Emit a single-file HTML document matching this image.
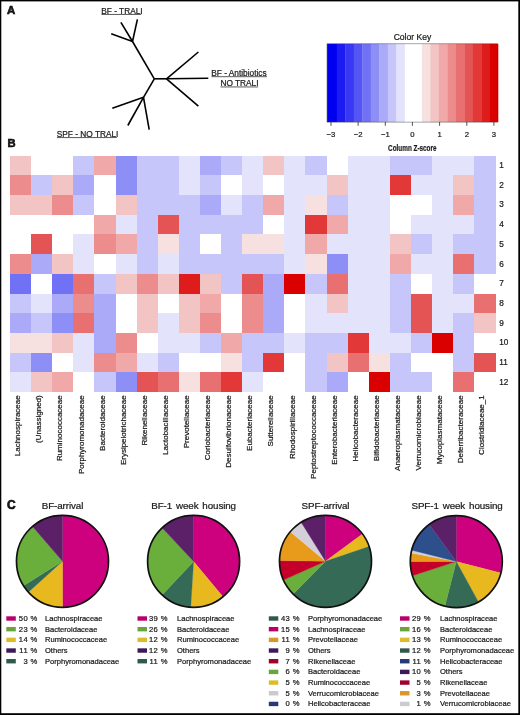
<!DOCTYPE html><html><head><meta charset="utf-8"><style>html,body{margin:0;padding:0;background:#000;width:520px;height:715px;overflow:hidden}svg{display:block;will-change:transform}text{font-family:"Liberation Sans",sans-serif;fill:#1a1a1a;stroke:#1a1a1a;stroke-width:0.22px}</style></head><body>
<svg width="520" height="715" viewBox="0 0 520 715">
<rect x="0" y="0" width="520" height="715" fill="#000"/>
<rect x="1.3" y="1.4" width="517.0" height="711.8" fill="#fff"/>
<text x="7.0" y="13.6" font-size="11.4" font-weight="bold" fill="#000" style="stroke:#000;stroke-width:0.6px">A</text>
<text x="7.4" y="147.2" font-size="11.2" font-weight="bold" fill="#000" style="stroke:#000;stroke-width:0.6px">B</text>
<text x="7.0" y="508.8" font-size="12" font-weight="bold" fill="#000" style="stroke:#000;stroke-width:0.6px">C</text>
<g stroke="#000" stroke-width="1.6" stroke-linecap="butt" fill="none">
<line x1="154.3" y1="78.8" x2="166.5" y2="78.8"/>
<line x1="166.5" y1="78.8" x2="198.4" y2="52"/>
<line x1="166.5" y1="78.8" x2="208.3" y2="78.3"/>
<line x1="166.5" y1="78.8" x2="198.4" y2="106.2"/>
<line x1="154.3" y1="78.8" x2="132.5" y2="41.5"/>
<line x1="132.5" y1="41.5" x2="111.2" y2="33.8"/>
<line x1="132.5" y1="41.5" x2="120.9" y2="22.3"/>
<line x1="132.5" y1="41.5" x2="137.4" y2="19.3"/>
<line x1="154.3" y1="78.8" x2="143.5" y2="97.3"/>
<line x1="143.5" y1="97.3" x2="112.3" y2="108.2"/>
<line x1="143.5" y1="97.3" x2="127.8" y2="125.5"/>
<line x1="143.5" y1="97.3" x2="149.2" y2="129.6"/>
</g>
<text x="101.3" y="13.5" font-size="8.3" fill="#111">BF - TRALI</text>
<rect x="101.39999999999999" y="13.95" width="39.80" height="0.8" fill="#333"/>
<text x="211.3" y="75.9" font-size="8.3" fill="#111">BF - Antibiotics</text>
<rect x="211.4" y="76.35" width="55.60" height="0.8" fill="#333"/>
<text x="220.4" y="86.1" font-size="8.3" fill="#111">NO TRALI</text>
<rect x="220.5" y="86.55" width="37.60" height="0.8" fill="#333"/>
<text x="56.8" y="136.8" font-size="8.3" fill="#111">SPF - NO TRALI</text>
<rect x="56.9" y="137.25" width="60.00" height="0.8" fill="#333"/>
<rect x="327.10" y="43.8" width="10.00" height="78.30" fill="#0000f1"/>
<rect x="336.80" y="43.8" width="8.81" height="78.30" fill="#1c1cf2"/>
<rect x="345.31" y="43.8" width="8.81" height="78.30" fill="#3939f4"/>
<rect x="353.81" y="43.8" width="8.81" height="78.30" fill="#5555f5"/>
<rect x="362.32" y="43.8" width="8.81" height="78.30" fill="#7171f6"/>
<rect x="370.82" y="43.8" width="8.81" height="78.30" fill="#8e8ef7"/>
<rect x="379.33" y="43.8" width="8.81" height="78.30" fill="#aaaaf8"/>
<rect x="387.84" y="43.8" width="8.81" height="78.30" fill="#c6c6fa"/>
<rect x="396.34" y="43.8" width="8.81" height="78.30" fill="#e3e3fb"/>
<rect x="404.85" y="43.8" width="8.81" height="78.30" fill="#ffffff"/>
<rect x="413.35" y="43.8" width="8.81" height="78.30" fill="#ffffff"/>
<rect x="421.86" y="43.8" width="8.81" height="78.30" fill="#f6e0e0"/>
<rect x="430.37" y="43.8" width="8.81" height="78.30" fill="#f3c4c4"/>
<rect x="438.87" y="43.8" width="8.81" height="78.30" fill="#f0a8a8"/>
<rect x="447.38" y="43.8" width="8.81" height="78.30" fill="#ec8c8c"/>
<rect x="455.88" y="43.8" width="8.81" height="78.30" fill="#e87070"/>
<rect x="464.39" y="43.8" width="8.81" height="78.30" fill="#e55454"/>
<rect x="472.90" y="43.8" width="8.81" height="78.30" fill="#e23838"/>
<rect x="481.40" y="43.8" width="8.81" height="78.30" fill="#de1c1c"/>
<rect x="489.91" y="43.8" width="8.39" height="78.30" fill="#da0000"/>
<rect x="327.0" y="43.8" width="170.60" height="78.30" fill="none" stroke="#333" stroke-width="0.6" opacity="0.7"/>
<text x="412.5" y="40.1" font-size="8.6" text-anchor="middle">Color Key</text>
<line x1="331.0" y1="122.1" x2="331.0" y2="125.8" stroke="#222" stroke-width="0.8"/>
<text x="331.0" y="136.7" font-size="7.7" text-anchor="middle">−3</text>
<line x1="358.1" y1="122.1" x2="358.1" y2="125.8" stroke="#222" stroke-width="0.8"/>
<text x="358.1" y="136.7" font-size="7.7" text-anchor="middle">−2</text>
<line x1="385.3" y1="122.1" x2="385.3" y2="125.8" stroke="#222" stroke-width="0.8"/>
<text x="385.3" y="136.7" font-size="7.7" text-anchor="middle">−1</text>
<line x1="412.4" y1="122.1" x2="412.4" y2="125.8" stroke="#222" stroke-width="0.8"/>
<text x="412.4" y="136.7" font-size="7.7" text-anchor="middle">0</text>
<line x1="439.6" y1="122.1" x2="439.6" y2="125.8" stroke="#222" stroke-width="0.8"/>
<text x="439.6" y="136.7" font-size="7.7" text-anchor="middle">1</text>
<line x1="466.8" y1="122.1" x2="466.8" y2="125.8" stroke="#222" stroke-width="0.8"/>
<text x="466.8" y="136.7" font-size="7.7" text-anchor="middle">2</text>
<line x1="493.9" y1="122.1" x2="493.9" y2="125.8" stroke="#222" stroke-width="0.8"/>
<text x="493.9" y="136.7" font-size="7.7" text-anchor="middle">3</text>
<text x="0" y="0" font-size="9.5" font-weight="bold" text-anchor="middle" transform="translate(412.3,150.6) scale(0.67,1)">Column Z-score</text>
<g shape-rendering="crispEdges">
<rect x="10.00" y="155.70" width="21.35" height="19.94" fill="#f3c4c4"/>
<rect x="31.10" y="155.70" width="21.35" height="19.94" fill="#ffffff"/>
<rect x="52.20" y="155.70" width="21.35" height="19.94" fill="#ffffff"/>
<rect x="73.30" y="155.70" width="21.35" height="19.94" fill="#c6c6fa"/>
<rect x="94.40" y="155.70" width="21.35" height="19.94" fill="#f0a8a8"/>
<rect x="115.50" y="155.70" width="21.35" height="19.94" fill="#8e8ef7"/>
<rect x="136.60" y="155.70" width="21.35" height="19.94" fill="#c6c6fa"/>
<rect x="157.70" y="155.70" width="21.35" height="19.94" fill="#c6c6fa"/>
<rect x="178.80" y="155.70" width="21.35" height="19.94" fill="#e3e3fb"/>
<rect x="199.90" y="155.70" width="21.35" height="19.94" fill="#aaaaf8"/>
<rect x="221.00" y="155.70" width="21.35" height="19.94" fill="#c6c6fa"/>
<rect x="242.10" y="155.70" width="21.35" height="19.94" fill="#e3e3fb"/>
<rect x="263.20" y="155.70" width="21.35" height="19.94" fill="#f3c4c4"/>
<rect x="284.30" y="155.70" width="21.35" height="19.94" fill="#e3e3fb"/>
<rect x="305.40" y="155.70" width="21.35" height="19.94" fill="#c6c6fa"/>
<rect x="326.50" y="155.70" width="21.35" height="19.94" fill="#ffffff"/>
<rect x="347.60" y="155.70" width="21.35" height="19.94" fill="#e3e3fb"/>
<rect x="368.70" y="155.70" width="21.35" height="19.94" fill="#e3e3fb"/>
<rect x="389.80" y="155.70" width="21.35" height="19.94" fill="#c6c6fa"/>
<rect x="410.90" y="155.70" width="21.35" height="19.94" fill="#c6c6fa"/>
<rect x="432.00" y="155.70" width="21.35" height="19.94" fill="#e3e3fb"/>
<rect x="453.10" y="155.70" width="21.35" height="19.94" fill="#e3e3fb"/>
<rect x="474.20" y="155.70" width="21.35" height="19.94" fill="#c6c6fa"/>
<rect x="10.00" y="175.39" width="21.35" height="19.94" fill="#ec8c8c"/>
<rect x="31.10" y="175.39" width="21.35" height="19.94" fill="#c6c6fa"/>
<rect x="52.20" y="175.39" width="21.35" height="19.94" fill="#f3c4c4"/>
<rect x="73.30" y="175.39" width="21.35" height="19.94" fill="#aaaaf8"/>
<rect x="94.40" y="175.39" width="21.35" height="19.94" fill="#ffffff"/>
<rect x="115.50" y="175.39" width="21.35" height="19.94" fill="#8e8ef7"/>
<rect x="136.60" y="175.39" width="21.35" height="19.94" fill="#c6c6fa"/>
<rect x="157.70" y="175.39" width="21.35" height="19.94" fill="#c6c6fa"/>
<rect x="178.80" y="175.39" width="21.35" height="19.94" fill="#e3e3fb"/>
<rect x="199.90" y="175.39" width="21.35" height="19.94" fill="#c6c6fa"/>
<rect x="221.00" y="175.39" width="21.35" height="19.94" fill="#ffffff"/>
<rect x="242.10" y="175.39" width="21.35" height="19.94" fill="#e3e3fb"/>
<rect x="263.20" y="175.39" width="21.35" height="19.94" fill="#ffffff"/>
<rect x="284.30" y="175.39" width="21.35" height="19.94" fill="#e3e3fb"/>
<rect x="305.40" y="175.39" width="21.35" height="19.94" fill="#e3e3fb"/>
<rect x="326.50" y="175.39" width="21.35" height="19.94" fill="#f3c4c4"/>
<rect x="347.60" y="175.39" width="21.35" height="19.94" fill="#e3e3fb"/>
<rect x="368.70" y="175.39" width="21.35" height="19.94" fill="#e3e3fb"/>
<rect x="389.80" y="175.39" width="21.35" height="19.94" fill="#e23838"/>
<rect x="410.90" y="175.39" width="21.35" height="19.94" fill="#e3e3fb"/>
<rect x="432.00" y="175.39" width="21.35" height="19.94" fill="#e3e3fb"/>
<rect x="453.10" y="175.39" width="21.35" height="19.94" fill="#f3c4c4"/>
<rect x="474.20" y="175.39" width="21.35" height="19.94" fill="#c6c6fa"/>
<rect x="10.00" y="195.08" width="21.35" height="19.94" fill="#f3c4c4"/>
<rect x="31.10" y="195.08" width="21.35" height="19.94" fill="#f3c4c4"/>
<rect x="52.20" y="195.08" width="21.35" height="19.94" fill="#ec8c8c"/>
<rect x="73.30" y="195.08" width="21.35" height="19.94" fill="#c6c6fa"/>
<rect x="94.40" y="195.08" width="21.35" height="19.94" fill="#ffffff"/>
<rect x="115.50" y="195.08" width="21.35" height="19.94" fill="#f3c4c4"/>
<rect x="136.60" y="195.08" width="21.35" height="19.94" fill="#c6c6fa"/>
<rect x="157.70" y="195.08" width="21.35" height="19.94" fill="#c6c6fa"/>
<rect x="178.80" y="195.08" width="21.35" height="19.94" fill="#c6c6fa"/>
<rect x="199.90" y="195.08" width="21.35" height="19.94" fill="#aaaaf8"/>
<rect x="221.00" y="195.08" width="21.35" height="19.94" fill="#e3e3fb"/>
<rect x="242.10" y="195.08" width="21.35" height="19.94" fill="#c6c6fa"/>
<rect x="263.20" y="195.08" width="21.35" height="19.94" fill="#f0a8a8"/>
<rect x="284.30" y="195.08" width="21.35" height="19.94" fill="#e3e3fb"/>
<rect x="305.40" y="195.08" width="21.35" height="19.94" fill="#f6e0e0"/>
<rect x="326.50" y="195.08" width="21.35" height="19.94" fill="#c6c6fa"/>
<rect x="347.60" y="195.08" width="21.35" height="19.94" fill="#e3e3fb"/>
<rect x="368.70" y="195.08" width="21.35" height="19.94" fill="#e3e3fb"/>
<rect x="389.80" y="195.08" width="21.35" height="19.94" fill="#ffffff"/>
<rect x="410.90" y="195.08" width="21.35" height="19.94" fill="#ffffff"/>
<rect x="432.00" y="195.08" width="21.35" height="19.94" fill="#e3e3fb"/>
<rect x="453.10" y="195.08" width="21.35" height="19.94" fill="#f0a8a8"/>
<rect x="474.20" y="195.08" width="21.35" height="19.94" fill="#c6c6fa"/>
<rect x="10.00" y="214.77" width="21.35" height="19.94" fill="#ffffff"/>
<rect x="31.10" y="214.77" width="21.35" height="19.94" fill="#ffffff"/>
<rect x="52.20" y="214.77" width="21.35" height="19.94" fill="#ffffff"/>
<rect x="73.30" y="214.77" width="21.35" height="19.94" fill="#ffffff"/>
<rect x="94.40" y="214.77" width="21.35" height="19.94" fill="#f0a8a8"/>
<rect x="115.50" y="214.77" width="21.35" height="19.94" fill="#e3e3fb"/>
<rect x="136.60" y="214.77" width="21.35" height="19.94" fill="#c6c6fa"/>
<rect x="157.70" y="214.77" width="21.35" height="19.94" fill="#e55454"/>
<rect x="178.80" y="214.77" width="21.35" height="19.94" fill="#c6c6fa"/>
<rect x="199.90" y="214.77" width="21.35" height="19.94" fill="#c6c6fa"/>
<rect x="221.00" y="214.77" width="21.35" height="19.94" fill="#c6c6fa"/>
<rect x="242.10" y="214.77" width="21.35" height="19.94" fill="#c6c6fa"/>
<rect x="263.20" y="214.77" width="21.35" height="19.94" fill="#ffffff"/>
<rect x="284.30" y="214.77" width="21.35" height="19.94" fill="#e3e3fb"/>
<rect x="305.40" y="214.77" width="21.35" height="19.94" fill="#e23838"/>
<rect x="326.50" y="214.77" width="21.35" height="19.94" fill="#f0a8a8"/>
<rect x="347.60" y="214.77" width="21.35" height="19.94" fill="#e3e3fb"/>
<rect x="368.70" y="214.77" width="21.35" height="19.94" fill="#e3e3fb"/>
<rect x="389.80" y="214.77" width="21.35" height="19.94" fill="#ffffff"/>
<rect x="410.90" y="214.77" width="21.35" height="19.94" fill="#e3e3fb"/>
<rect x="432.00" y="214.77" width="21.35" height="19.94" fill="#e3e3fb"/>
<rect x="453.10" y="214.77" width="21.35" height="19.94" fill="#e3e3fb"/>
<rect x="474.20" y="214.77" width="21.35" height="19.94" fill="#c6c6fa"/>
<rect x="10.00" y="234.47" width="21.35" height="19.94" fill="#ffffff"/>
<rect x="31.10" y="234.47" width="21.35" height="19.94" fill="#e55454"/>
<rect x="52.20" y="234.47" width="21.35" height="19.94" fill="#ffffff"/>
<rect x="73.30" y="234.47" width="21.35" height="19.94" fill="#e3e3fb"/>
<rect x="94.40" y="234.47" width="21.35" height="19.94" fill="#ec8c8c"/>
<rect x="115.50" y="234.47" width="21.35" height="19.94" fill="#f0a8a8"/>
<rect x="136.60" y="234.47" width="21.35" height="19.94" fill="#c6c6fa"/>
<rect x="157.70" y="234.47" width="21.35" height="19.94" fill="#f6e0e0"/>
<rect x="178.80" y="234.47" width="21.35" height="19.94" fill="#c6c6fa"/>
<rect x="199.90" y="234.47" width="21.35" height="19.94" fill="#ffffff"/>
<rect x="221.00" y="234.47" width="21.35" height="19.94" fill="#c6c6fa"/>
<rect x="242.10" y="234.47" width="21.35" height="19.94" fill="#f6e0e0"/>
<rect x="263.20" y="234.47" width="21.35" height="19.94" fill="#f6e0e0"/>
<rect x="284.30" y="234.47" width="21.35" height="19.94" fill="#e3e3fb"/>
<rect x="305.40" y="234.47" width="21.35" height="19.94" fill="#f0a8a8"/>
<rect x="326.50" y="234.47" width="21.35" height="19.94" fill="#e3e3fb"/>
<rect x="347.60" y="234.47" width="21.35" height="19.94" fill="#e3e3fb"/>
<rect x="368.70" y="234.47" width="21.35" height="19.94" fill="#e3e3fb"/>
<rect x="389.80" y="234.47" width="21.35" height="19.94" fill="#f3c4c4"/>
<rect x="410.90" y="234.47" width="21.35" height="19.94" fill="#c6c6fa"/>
<rect x="432.00" y="234.47" width="21.35" height="19.94" fill="#e3e3fb"/>
<rect x="453.10" y="234.47" width="21.35" height="19.94" fill="#c6c6fa"/>
<rect x="474.20" y="234.47" width="21.35" height="19.94" fill="#c6c6fa"/>
<rect x="10.00" y="254.16" width="21.35" height="19.94" fill="#ec8c8c"/>
<rect x="31.10" y="254.16" width="21.35" height="19.94" fill="#aaaaf8"/>
<rect x="52.20" y="254.16" width="21.35" height="19.94" fill="#f3c4c4"/>
<rect x="73.30" y="254.16" width="21.35" height="19.94" fill="#e3e3fb"/>
<rect x="94.40" y="254.16" width="21.35" height="19.94" fill="#ffffff"/>
<rect x="115.50" y="254.16" width="21.35" height="19.94" fill="#e3e3fb"/>
<rect x="136.60" y="254.16" width="21.35" height="19.94" fill="#c6c6fa"/>
<rect x="157.70" y="254.16" width="21.35" height="19.94" fill="#e3e3fb"/>
<rect x="178.80" y="254.16" width="21.35" height="19.94" fill="#c6c6fa"/>
<rect x="199.90" y="254.16" width="21.35" height="19.94" fill="#c6c6fa"/>
<rect x="221.00" y="254.16" width="21.35" height="19.94" fill="#c6c6fa"/>
<rect x="242.10" y="254.16" width="21.35" height="19.94" fill="#c6c6fa"/>
<rect x="263.20" y="254.16" width="21.35" height="19.94" fill="#c6c6fa"/>
<rect x="284.30" y="254.16" width="21.35" height="19.94" fill="#e3e3fb"/>
<rect x="305.40" y="254.16" width="21.35" height="19.94" fill="#f6e0e0"/>
<rect x="326.50" y="254.16" width="21.35" height="19.94" fill="#8e8ef7"/>
<rect x="347.60" y="254.16" width="21.35" height="19.94" fill="#e3e3fb"/>
<rect x="368.70" y="254.16" width="21.35" height="19.94" fill="#e3e3fb"/>
<rect x="389.80" y="254.16" width="21.35" height="19.94" fill="#f0a8a8"/>
<rect x="410.90" y="254.16" width="21.35" height="19.94" fill="#e3e3fb"/>
<rect x="432.00" y="254.16" width="21.35" height="19.94" fill="#e3e3fb"/>
<rect x="453.10" y="254.16" width="21.35" height="19.94" fill="#e87070"/>
<rect x="474.20" y="254.16" width="21.35" height="19.94" fill="#c6c6fa"/>
<rect x="10.00" y="273.85" width="21.35" height="19.94" fill="#7171f6"/>
<rect x="31.10" y="273.85" width="21.35" height="19.94" fill="#ffffff"/>
<rect x="52.20" y="273.85" width="21.35" height="19.94" fill="#7171f6"/>
<rect x="73.30" y="273.85" width="21.35" height="19.94" fill="#e87070"/>
<rect x="94.40" y="273.85" width="21.35" height="19.94" fill="#c6c6fa"/>
<rect x="115.50" y="273.85" width="21.35" height="19.94" fill="#f3c4c4"/>
<rect x="136.60" y="273.85" width="21.35" height="19.94" fill="#ec8c8c"/>
<rect x="157.70" y="273.85" width="21.35" height="19.94" fill="#f3c4c4"/>
<rect x="178.80" y="273.85" width="21.35" height="19.94" fill="#de1c1c"/>
<rect x="199.90" y="273.85" width="21.35" height="19.94" fill="#f3c4c4"/>
<rect x="221.00" y="273.85" width="21.35" height="19.94" fill="#c6c6fa"/>
<rect x="242.10" y="273.85" width="21.35" height="19.94" fill="#e55454"/>
<rect x="263.20" y="273.85" width="21.35" height="19.94" fill="#aaaaf8"/>
<rect x="284.30" y="273.85" width="21.35" height="19.94" fill="#da0000"/>
<rect x="305.40" y="273.85" width="21.35" height="19.94" fill="#c6c6fa"/>
<rect x="326.50" y="273.85" width="21.35" height="19.94" fill="#e87070"/>
<rect x="347.60" y="273.85" width="21.35" height="19.94" fill="#e3e3fb"/>
<rect x="368.70" y="273.85" width="21.35" height="19.94" fill="#e3e3fb"/>
<rect x="389.80" y="273.85" width="21.35" height="19.94" fill="#c6c6fa"/>
<rect x="410.90" y="273.85" width="21.35" height="19.94" fill="#ffffff"/>
<rect x="432.00" y="273.85" width="21.35" height="19.94" fill="#e3e3fb"/>
<rect x="453.10" y="273.85" width="21.35" height="19.94" fill="#c6c6fa"/>
<rect x="474.20" y="273.85" width="21.35" height="19.94" fill="#ffffff"/>
<rect x="10.00" y="293.54" width="21.35" height="19.94" fill="#c6c6fa"/>
<rect x="31.10" y="293.54" width="21.35" height="19.94" fill="#e3e3fb"/>
<rect x="52.20" y="293.54" width="21.35" height="19.94" fill="#aaaaf8"/>
<rect x="73.30" y="293.54" width="21.35" height="19.94" fill="#ec8c8c"/>
<rect x="94.40" y="293.54" width="21.35" height="19.94" fill="#aaaaf8"/>
<rect x="115.50" y="293.54" width="21.35" height="19.94" fill="#ffffff"/>
<rect x="136.60" y="293.54" width="21.35" height="19.94" fill="#f3c4c4"/>
<rect x="157.70" y="293.54" width="21.35" height="19.94" fill="#ffffff"/>
<rect x="178.80" y="293.54" width="21.35" height="19.94" fill="#f3c4c4"/>
<rect x="199.90" y="293.54" width="21.35" height="19.94" fill="#f0a8a8"/>
<rect x="221.00" y="293.54" width="21.35" height="19.94" fill="#ffffff"/>
<rect x="242.10" y="293.54" width="21.35" height="19.94" fill="#ec8c8c"/>
<rect x="263.20" y="293.54" width="21.35" height="19.94" fill="#aaaaf8"/>
<rect x="284.30" y="293.54" width="21.35" height="19.94" fill="#ffffff"/>
<rect x="305.40" y="293.54" width="21.35" height="19.94" fill="#e3e3fb"/>
<rect x="326.50" y="293.54" width="21.35" height="19.94" fill="#f3c4c4"/>
<rect x="347.60" y="293.54" width="21.35" height="19.94" fill="#e3e3fb"/>
<rect x="368.70" y="293.54" width="21.35" height="19.94" fill="#e3e3fb"/>
<rect x="389.80" y="293.54" width="21.35" height="19.94" fill="#c6c6fa"/>
<rect x="410.90" y="293.54" width="21.35" height="19.94" fill="#e55454"/>
<rect x="432.00" y="293.54" width="21.35" height="19.94" fill="#e3e3fb"/>
<rect x="453.10" y="293.54" width="21.35" height="19.94" fill="#e3e3fb"/>
<rect x="474.20" y="293.54" width="21.35" height="19.94" fill="#e87070"/>
<rect x="10.00" y="313.23" width="21.35" height="19.94" fill="#aaaaf8"/>
<rect x="31.10" y="313.23" width="21.35" height="19.94" fill="#c6c6fa"/>
<rect x="52.20" y="313.23" width="21.35" height="19.94" fill="#8e8ef7"/>
<rect x="73.30" y="313.23" width="21.35" height="19.94" fill="#e87070"/>
<rect x="94.40" y="313.23" width="21.35" height="19.94" fill="#aaaaf8"/>
<rect x="115.50" y="313.23" width="21.35" height="19.94" fill="#ffffff"/>
<rect x="136.60" y="313.23" width="21.35" height="19.94" fill="#f3c4c4"/>
<rect x="157.70" y="313.23" width="21.35" height="19.94" fill="#e3e3fb"/>
<rect x="178.80" y="313.23" width="21.35" height="19.94" fill="#f3c4c4"/>
<rect x="199.90" y="313.23" width="21.35" height="19.94" fill="#ec8c8c"/>
<rect x="221.00" y="313.23" width="21.35" height="19.94" fill="#ffffff"/>
<rect x="242.10" y="313.23" width="21.35" height="19.94" fill="#ec8c8c"/>
<rect x="263.20" y="313.23" width="21.35" height="19.94" fill="#aaaaf8"/>
<rect x="284.30" y="313.23" width="21.35" height="19.94" fill="#ffffff"/>
<rect x="305.40" y="313.23" width="21.35" height="19.94" fill="#e3e3fb"/>
<rect x="326.50" y="313.23" width="21.35" height="19.94" fill="#e3e3fb"/>
<rect x="347.60" y="313.23" width="21.35" height="19.94" fill="#e3e3fb"/>
<rect x="368.70" y="313.23" width="21.35" height="19.94" fill="#e3e3fb"/>
<rect x="389.80" y="313.23" width="21.35" height="19.94" fill="#c6c6fa"/>
<rect x="410.90" y="313.23" width="21.35" height="19.94" fill="#e55454"/>
<rect x="432.00" y="313.23" width="21.35" height="19.94" fill="#e3e3fb"/>
<rect x="453.10" y="313.23" width="21.35" height="19.94" fill="#c6c6fa"/>
<rect x="474.20" y="313.23" width="21.35" height="19.94" fill="#f3c4c4"/>
<rect x="10.00" y="332.92" width="21.35" height="19.94" fill="#f6e0e0"/>
<rect x="31.10" y="332.92" width="21.35" height="19.94" fill="#f6e0e0"/>
<rect x="52.20" y="332.92" width="21.35" height="19.94" fill="#f3c4c4"/>
<rect x="73.30" y="332.92" width="21.35" height="19.94" fill="#e3e3fb"/>
<rect x="94.40" y="332.92" width="21.35" height="19.94" fill="#aaaaf8"/>
<rect x="115.50" y="332.92" width="21.35" height="19.94" fill="#ec8c8c"/>
<rect x="136.60" y="332.92" width="21.35" height="19.94" fill="#ffffff"/>
<rect x="157.70" y="332.92" width="21.35" height="19.94" fill="#e3e3fb"/>
<rect x="178.80" y="332.92" width="21.35" height="19.94" fill="#e3e3fb"/>
<rect x="199.90" y="332.92" width="21.35" height="19.94" fill="#c6c6fa"/>
<rect x="221.00" y="332.92" width="21.35" height="19.94" fill="#f0a8a8"/>
<rect x="242.10" y="332.92" width="21.35" height="19.94" fill="#c6c6fa"/>
<rect x="263.20" y="332.92" width="21.35" height="19.94" fill="#c6c6fa"/>
<rect x="284.30" y="332.92" width="21.35" height="19.94" fill="#e3e3fb"/>
<rect x="305.40" y="332.92" width="21.35" height="19.94" fill="#c6c6fa"/>
<rect x="326.50" y="332.92" width="21.35" height="19.94" fill="#c6c6fa"/>
<rect x="347.60" y="332.92" width="21.35" height="19.94" fill="#e23838"/>
<rect x="368.70" y="332.92" width="21.35" height="19.94" fill="#e3e3fb"/>
<rect x="389.80" y="332.92" width="21.35" height="19.94" fill="#e3e3fb"/>
<rect x="410.90" y="332.92" width="21.35" height="19.94" fill="#c6c6fa"/>
<rect x="432.00" y="332.92" width="21.35" height="19.94" fill="#da0000"/>
<rect x="453.10" y="332.92" width="21.35" height="19.94" fill="#c6c6fa"/>
<rect x="474.20" y="332.92" width="21.35" height="19.94" fill="#ffffff"/>
<rect x="10.00" y="352.62" width="21.35" height="19.94" fill="#c6c6fa"/>
<rect x="31.10" y="352.62" width="21.35" height="19.94" fill="#8e8ef7"/>
<rect x="52.20" y="352.62" width="21.35" height="19.94" fill="#ffffff"/>
<rect x="73.30" y="352.62" width="21.35" height="19.94" fill="#e3e3fb"/>
<rect x="94.40" y="352.62" width="21.35" height="19.94" fill="#ec8c8c"/>
<rect x="115.50" y="352.62" width="21.35" height="19.94" fill="#f0a8a8"/>
<rect x="136.60" y="352.62" width="21.35" height="19.94" fill="#e3e3fb"/>
<rect x="157.70" y="352.62" width="21.35" height="19.94" fill="#c6c6fa"/>
<rect x="178.80" y="352.62" width="21.35" height="19.94" fill="#ffffff"/>
<rect x="199.90" y="352.62" width="21.35" height="19.94" fill="#ffffff"/>
<rect x="221.00" y="352.62" width="21.35" height="19.94" fill="#f6e0e0"/>
<rect x="242.10" y="352.62" width="21.35" height="19.94" fill="#c6c6fa"/>
<rect x="263.20" y="352.62" width="21.35" height="19.94" fill="#e23838"/>
<rect x="284.30" y="352.62" width="21.35" height="19.94" fill="#ffffff"/>
<rect x="305.40" y="352.62" width="21.35" height="19.94" fill="#c6c6fa"/>
<rect x="326.50" y="352.62" width="21.35" height="19.94" fill="#f3c4c4"/>
<rect x="347.60" y="352.62" width="21.35" height="19.94" fill="#e87070"/>
<rect x="368.70" y="352.62" width="21.35" height="19.94" fill="#f6e0e0"/>
<rect x="389.80" y="352.62" width="21.35" height="19.94" fill="#c6c6fa"/>
<rect x="410.90" y="352.62" width="21.35" height="19.94" fill="#ffffff"/>
<rect x="432.00" y="352.62" width="21.35" height="19.94" fill="#ffffff"/>
<rect x="453.10" y="352.62" width="21.35" height="19.94" fill="#c6c6fa"/>
<rect x="474.20" y="352.62" width="21.35" height="19.94" fill="#e55454"/>
<rect x="10.00" y="372.31" width="21.35" height="19.94" fill="#e3e3fb"/>
<rect x="31.10" y="372.31" width="21.35" height="19.94" fill="#f3c4c4"/>
<rect x="52.20" y="372.31" width="21.35" height="19.94" fill="#f0a8a8"/>
<rect x="73.30" y="372.31" width="21.35" height="19.94" fill="#ffffff"/>
<rect x="94.40" y="372.31" width="21.35" height="19.94" fill="#c6c6fa"/>
<rect x="115.50" y="372.31" width="21.35" height="19.94" fill="#8e8ef7"/>
<rect x="136.60" y="372.31" width="21.35" height="19.94" fill="#e55454"/>
<rect x="157.70" y="372.31" width="21.35" height="19.94" fill="#e87070"/>
<rect x="178.80" y="372.31" width="21.35" height="19.94" fill="#f6e0e0"/>
<rect x="199.90" y="372.31" width="21.35" height="19.94" fill="#e87070"/>
<rect x="221.00" y="372.31" width="21.35" height="19.94" fill="#e23838"/>
<rect x="242.10" y="372.31" width="21.35" height="19.94" fill="#e3e3fb"/>
<rect x="263.20" y="372.31" width="21.35" height="19.94" fill="#ffffff"/>
<rect x="284.30" y="372.31" width="21.35" height="19.94" fill="#ffffff"/>
<rect x="305.40" y="372.31" width="21.35" height="19.94" fill="#c6c6fa"/>
<rect x="326.50" y="372.31" width="21.35" height="19.94" fill="#aaaaf8"/>
<rect x="347.60" y="372.31" width="21.35" height="19.94" fill="#ffffff"/>
<rect x="368.70" y="372.31" width="21.35" height="19.94" fill="#da0000"/>
<rect x="389.80" y="372.31" width="21.35" height="19.94" fill="#c6c6fa"/>
<rect x="410.90" y="372.31" width="21.35" height="19.94" fill="#c6c6fa"/>
<rect x="432.00" y="372.31" width="21.35" height="19.94" fill="#ffffff"/>
<rect x="453.10" y="372.31" width="21.35" height="19.94" fill="#e87070"/>
<rect x="474.20" y="372.31" width="21.35" height="19.94" fill="#ffffff"/>
</g>
<text x="499.3" y="168.05" font-size="8.2">1</text>
<text x="499.3" y="187.74" font-size="8.2">2</text>
<text x="499.3" y="207.43" font-size="8.2">3</text>
<text x="499.3" y="227.12" font-size="8.2">4</text>
<text x="499.3" y="246.81" font-size="8.2">5</text>
<text x="499.3" y="266.50" font-size="8.2">6</text>
<text x="499.3" y="286.20" font-size="8.2">7</text>
<text x="499.3" y="305.89" font-size="8.2">8</text>
<text x="499.3" y="325.58" font-size="8.2">9</text>
<text x="499.3" y="345.27" font-size="8.2">10</text>
<text x="499.3" y="364.96" font-size="8.2">11</text>
<text x="499.3" y="384.65" font-size="8.2">12</text>
<text x="0" y="0" font-size="8" text-anchor="end" transform="translate(20.25,395.3) rotate(-90)">Lachnospiraceae</text>
<text x="0" y="0" font-size="8" text-anchor="end" transform="translate(41.35,395.3) rotate(-90)">(Unassigned)</text>
<text x="0" y="0" font-size="8" text-anchor="end" transform="translate(62.45,395.3) rotate(-90)">Ruminococcaceae</text>
<text x="0" y="0" font-size="8" text-anchor="end" transform="translate(83.55,395.3) rotate(-90)">Porphyromonadaceae</text>
<text x="0" y="0" font-size="8" text-anchor="end" transform="translate(104.65,395.3) rotate(-90)">Bacteroidaceae</text>
<text x="0" y="0" font-size="8" text-anchor="end" transform="translate(125.75,395.3) rotate(-90)">Erysipelotrichaceae</text>
<text x="0" y="0" font-size="8" text-anchor="end" transform="translate(146.85,395.3) rotate(-90)">Rikenellaceae</text>
<text x="0" y="0" font-size="8" text-anchor="end" transform="translate(167.95,395.3) rotate(-90)">Lactobacillaceae</text>
<text x="0" y="0" font-size="8" text-anchor="end" transform="translate(189.05,395.3) rotate(-90)">Prevotellaceae</text>
<text x="0" y="0" font-size="8" text-anchor="end" transform="translate(210.15,395.3) rotate(-90)">Coriobacteriaceae</text>
<text x="0" y="0" font-size="8" text-anchor="end" transform="translate(231.25,395.3) rotate(-90)">Desulfovibrionaceae</text>
<text x="0" y="0" font-size="8" text-anchor="end" transform="translate(252.35,395.3) rotate(-90)">Eubacteriaceae</text>
<text x="0" y="0" font-size="8" text-anchor="end" transform="translate(273.45,395.3) rotate(-90)">Sutterellaceae</text>
<text x="0" y="0" font-size="8" text-anchor="end" transform="translate(294.55,395.3) rotate(-90)">Rhodospirillaceae</text>
<text x="0" y="0" font-size="8" text-anchor="end" transform="translate(315.65,395.3) rotate(-90)">Peptostreptococcaceae</text>
<text x="0" y="0" font-size="8" text-anchor="end" transform="translate(336.75,395.3) rotate(-90)">Enterobacteriaceae</text>
<text x="0" y="0" font-size="8" text-anchor="end" transform="translate(357.85,395.3) rotate(-90)">Helicobacteraceae</text>
<text x="0" y="0" font-size="8" text-anchor="end" transform="translate(378.95,395.3) rotate(-90)">Bifidobacteriaceae</text>
<text x="0" y="0" font-size="8" text-anchor="end" transform="translate(400.05,395.3) rotate(-90)">Anaeroplasmataceae</text>
<text x="0" y="0" font-size="8" text-anchor="end" transform="translate(421.15,395.3) rotate(-90)">Verrucomicrobiaceae</text>
<text x="0" y="0" font-size="8" text-anchor="end" transform="translate(442.25,395.3) rotate(-90)">Mycoplasmataceae</text>
<text x="0" y="0" font-size="8" text-anchor="end" transform="translate(463.35,395.3) rotate(-90)">Deferribacteraceae</text>
<text x="0" y="0" font-size="8" text-anchor="end" transform="translate(484.45,395.3) rotate(-90)">Clostridiaceae_1</text>
<path d="M62.5,561.3 L62.50,515.30 A46,46 0 0 1 62.50,607.30 Z" fill="#cd007d" stroke="#cd007d" stroke-width="0.3"/>
<path d="M62.5,561.3 L62.50,607.30 A46,46 0 0 1 28.38,592.15 Z" fill="#e8b91e" stroke="#e8b91e" stroke-width="0.3"/>
<path d="M62.5,561.3 L28.38,592.15 A46,46 0 0 1 23.51,585.70 Z" fill="#346a56" stroke="#346a56" stroke-width="0.3"/>
<path d="M62.5,561.3 L23.51,585.70 A46,46 0 0 1 32.52,526.42 Z" fill="#6aae3c" stroke="#6aae3c" stroke-width="0.3"/>
<path d="M62.5,561.3 L32.52,526.42 A46,46 0 0 1 62.50,515.30 Z" fill="#5c2068" stroke="#5c2068" stroke-width="0.3"/>
<circle cx="62.5" cy="561.3" r="46" fill="none" stroke="#111" stroke-width="1.7"/>
<text x="62.5" y="508.9" font-size="9.8" letter-spacing="-0.1" word-spacing="1.3" text-anchor="middle">BF-arrival</text>
<path d="M193.6,561.4 L193.60,515.40 A46,46 0 0 1 222.92,596.84 Z" fill="#cd007d" stroke="#cd007d" stroke-width="0.3"/>
<path d="M193.6,561.4 L222.92,596.84 A46,46 0 0 1 190.71,607.31 Z" fill="#e8b91e" stroke="#e8b91e" stroke-width="0.3"/>
<path d="M193.6,561.4 L190.71,607.31 A46,46 0 0 1 162.11,594.93 Z" fill="#346a56" stroke="#346a56" stroke-width="0.3"/>
<path d="M193.6,561.4 L162.11,594.93 A46,46 0 0 1 162.11,527.87 Z" fill="#6aae3c" stroke="#6aae3c" stroke-width="0.3"/>
<path d="M193.6,561.4 L162.11,527.87 A46,46 0 0 1 193.60,515.40 Z" fill="#5c2068" stroke="#5c2068" stroke-width="0.3"/>
<circle cx="193.6" cy="561.4" r="46" fill="none" stroke="#111" stroke-width="1.7"/>
<text x="193.6" y="508.9" font-size="9.8" letter-spacing="-0.1" word-spacing="1.3" text-anchor="middle">BF-1 week housing</text>
<path d="M325.5,561.3 L325.50,515.30 A46,46 0 0 1 362.46,533.92 Z" fill="#cd007d" stroke="#cd007d" stroke-width="0.3"/>
<path d="M325.5,561.3 L362.46,533.92 A46,46 0 0 1 369.07,546.54 Z" fill="#e8b91e" stroke="#e8b91e" stroke-width="0.3"/>
<path d="M325.5,561.3 L369.07,546.54 A46,46 0 0 1 293.23,594.08 Z" fill="#346a56" stroke="#346a56" stroke-width="0.3"/>
<path d="M325.5,561.3 L293.23,594.08 A46,46 0 0 1 283.50,580.05 Z" fill="#6aae3c" stroke="#6aae3c" stroke-width="0.3"/>
<path d="M325.5,561.3 L283.50,580.05 A46,46 0 0 1 279.51,560.58 Z" fill="#c4002a" stroke="#c4002a" stroke-width="0.3"/>
<path d="M325.5,561.3 L279.51,560.58 A46,46 0 0 1 290.31,531.67 Z" fill="#e89a1a" stroke="#e89a1a" stroke-width="0.3"/>
<path d="M325.5,561.3 L290.31,531.67 A46,46 0 0 1 301.07,522.32 Z" fill="#d4d0da" stroke="#d4d0da" stroke-width="0.3"/>
<path d="M325.5,561.3 L301.07,522.32 A46,46 0 0 1 325.50,515.30 Z" fill="#5c2068" stroke="#5c2068" stroke-width="0.3"/>
<circle cx="325.5" cy="561.3" r="46" fill="none" stroke="#111" stroke-width="1.7"/>
<text x="325.5" y="508.9" font-size="9.8" letter-spacing="-0.1" word-spacing="1.3" text-anchor="middle">SPF-arrival</text>
<path d="M456.3,561.6 L456.30,515.60 A46,46 0 0 1 500.85,573.04 Z" fill="#cd007d" stroke="#cd007d" stroke-width="0.3"/>
<path d="M456.3,561.6 L500.85,573.04 A46,46 0 0 1 478.46,601.91 Z" fill="#e8b91e" stroke="#e8b91e" stroke-width="0.3"/>
<path d="M456.3,561.6 L478.46,601.91 A46,46 0 0 1 444.86,606.15 Z" fill="#346a56" stroke="#346a56" stroke-width="0.3"/>
<path d="M456.3,561.6 L444.86,606.15 A46,46 0 0 1 412.55,575.81 Z" fill="#6aae3c" stroke="#6aae3c" stroke-width="0.3"/>
<path d="M456.3,561.6 L412.55,575.81 A46,46 0 0 1 410.30,561.60 Z" fill="#c4002a" stroke="#c4002a" stroke-width="0.3"/>
<path d="M456.3,561.6 L410.30,561.60 A46,46 0 0 1 411.11,552.98 Z" fill="#e89a1a" stroke="#e89a1a" stroke-width="0.3"/>
<path d="M456.3,561.6 L411.11,552.98 A46,46 0 0 1 411.75,550.16 Z" fill="#d4d0da" stroke="#d4d0da" stroke-width="0.3"/>
<path d="M456.3,561.6 L411.75,550.16 A46,46 0 0 1 429.26,524.39 Z" fill="#2d508c" stroke="#2d508c" stroke-width="0.3"/>
<path d="M456.3,561.6 L429.26,524.39 A46,46 0 0 1 456.30,515.60 Z" fill="#5c2068" stroke="#5c2068" stroke-width="0.3"/>
<circle cx="456.3" cy="561.6" r="46" fill="none" stroke="#111" stroke-width="1.7"/>
<text x="457.1" y="508.9" font-size="9.8" letter-spacing="-0.1" word-spacing="1.3" text-anchor="middle">SPF-1 week housing</text>
<rect x="6.3" y="616.30" width="9.5" height="4.4" fill="#b90069"/>
<text x="37.699999999999996" y="621.00" font-size="7.6" letter-spacing="0.4" text-anchor="end">50 %</text>
<text x="45" y="621.00" font-size="7.55">Lachnospiraceae</text>
<rect x="6.3" y="626.98" width="9.5" height="4.4" fill="#69a53c"/>
<text x="37.699999999999996" y="631.68" font-size="7.6" letter-spacing="0.4" text-anchor="end">23 %</text>
<text x="45" y="631.68" font-size="7.55">Bacteroidaceae</text>
<rect x="6.3" y="637.66" width="9.5" height="4.4" fill="#dcbc2a"/>
<text x="37.699999999999996" y="642.36" font-size="7.6" letter-spacing="0.4" text-anchor="end">14 %</text>
<text x="45" y="642.36" font-size="7.55">Ruminococcaceae</text>
<rect x="6.3" y="648.34" width="9.5" height="4.4" fill="#3c1a5a"/>
<text x="37.699999999999996" y="653.04" font-size="7.6" letter-spacing="0.4" text-anchor="end">11 %</text>
<text x="45" y="653.04" font-size="7.55">Others</text>
<rect x="6.3" y="659.02" width="9.5" height="4.4" fill="#2f5a4a"/>
<text x="37.699999999999996" y="663.72" font-size="7.6" letter-spacing="0.4" text-anchor="end">3 %</text>
<text x="45" y="663.72" font-size="7.55">Porphyromonadaceae</text>
<rect x="137.5" y="616.30" width="9.5" height="4.4" fill="#b90069"/>
<text x="167.9" y="621.00" font-size="7.6" letter-spacing="0.4" text-anchor="end">39 %</text>
<text x="177" y="621.00" font-size="7.55">Lachnospiraceae</text>
<rect x="137.5" y="626.98" width="9.5" height="4.4" fill="#69a53c"/>
<text x="167.9" y="631.68" font-size="7.6" letter-spacing="0.4" text-anchor="end">26 %</text>
<text x="177" y="631.68" font-size="7.55">Bacteroidaceae</text>
<rect x="137.5" y="637.66" width="9.5" height="4.4" fill="#dcbc2a"/>
<text x="167.9" y="642.36" font-size="7.6" letter-spacing="0.4" text-anchor="end">12 %</text>
<text x="177" y="642.36" font-size="7.55">Ruminococcaceae</text>
<rect x="137.5" y="648.34" width="9.5" height="4.4" fill="#3c1a5a"/>
<text x="167.9" y="653.04" font-size="7.6" letter-spacing="0.4" text-anchor="end">12 %</text>
<text x="177" y="653.04" font-size="7.55">Others</text>
<rect x="137.5" y="659.02" width="9.5" height="4.4" fill="#2f5a4a"/>
<text x="167.9" y="663.72" font-size="7.6" letter-spacing="0.4" text-anchor="end">11 %</text>
<text x="177" y="663.72" font-size="7.55">Porphyromonadaceae</text>
<rect x="268.8" y="616.30" width="9.5" height="4.4" fill="#2f5a4a"/>
<text x="299.9" y="621.00" font-size="7.6" letter-spacing="0.4" text-anchor="end">43 %</text>
<text x="308" y="621.00" font-size="7.55">Porphyromonadaceae</text>
<rect x="268.8" y="626.98" width="9.5" height="4.4" fill="#b90069"/>
<text x="299.9" y="631.68" font-size="7.6" letter-spacing="0.4" text-anchor="end">15 %</text>
<text x="308" y="631.68" font-size="7.55">Lachnospiraceae</text>
<rect x="268.8" y="637.66" width="9.5" height="4.4" fill="#da9628"/>
<text x="299.9" y="642.36" font-size="7.6" letter-spacing="0.4" text-anchor="end">11 %</text>
<text x="308" y="642.36" font-size="7.55">Prevotellaceae</text>
<rect x="268.8" y="648.34" width="9.5" height="4.4" fill="#3c1a5a"/>
<text x="299.9" y="653.04" font-size="7.6" letter-spacing="0.4" text-anchor="end">9 %</text>
<text x="308" y="653.04" font-size="7.55">Others</text>
<rect x="268.8" y="659.02" width="9.5" height="4.4" fill="#a0002c"/>
<text x="299.9" y="663.72" font-size="7.6" letter-spacing="0.4" text-anchor="end">7 %</text>
<text x="308" y="663.72" font-size="7.55">Rikenellaceae</text>
<rect x="268.8" y="669.70" width="9.5" height="4.4" fill="#69a53c"/>
<text x="299.9" y="674.40" font-size="7.6" letter-spacing="0.4" text-anchor="end">6 %</text>
<text x="308" y="674.40" font-size="7.55">Bacteroidaceae</text>
<rect x="268.8" y="680.38" width="9.5" height="4.4" fill="#dcbc2a"/>
<text x="299.9" y="685.08" font-size="7.6" letter-spacing="0.4" text-anchor="end">5 %</text>
<text x="308" y="685.08" font-size="7.55">Ruminococcaceae</text>
<rect x="268.8" y="691.06" width="9.5" height="4.4" fill="#cacacf"/>
<text x="299.9" y="695.76" font-size="7.6" letter-spacing="0.4" text-anchor="end">5 %</text>
<text x="308" y="695.76" font-size="7.55">Verrucomicrobiaceae</text>
<rect x="268.8" y="701.74" width="9.5" height="4.4" fill="#26397a"/>
<text x="299.9" y="706.44" font-size="7.6" letter-spacing="0.4" text-anchor="end">0 %</text>
<text x="308" y="706.44" font-size="7.55">Helicobacteraceae</text>
<rect x="400" y="616.30" width="9.5" height="4.4" fill="#b90069"/>
<text x="430.9" y="621.00" font-size="7.6" letter-spacing="0.4" text-anchor="end">29 %</text>
<text x="440" y="621.00" font-size="7.55">Lachnospiraceae</text>
<rect x="400" y="626.98" width="9.5" height="4.4" fill="#69a53c"/>
<text x="430.9" y="631.68" font-size="7.6" letter-spacing="0.4" text-anchor="end">16 %</text>
<text x="440" y="631.68" font-size="7.55">Bacteroidaceae</text>
<rect x="400" y="637.66" width="9.5" height="4.4" fill="#dcbc2a"/>
<text x="430.9" y="642.36" font-size="7.6" letter-spacing="0.4" text-anchor="end">13 %</text>
<text x="440" y="642.36" font-size="7.55">Ruminococcaceae</text>
<rect x="400" y="648.34" width="9.5" height="4.4" fill="#2f5a4a"/>
<text x="430.9" y="653.04" font-size="7.6" letter-spacing="0.4" text-anchor="end">12 %</text>
<text x="440" y="653.04" font-size="7.55">Porphyromonadaceae</text>
<rect x="400" y="659.02" width="9.5" height="4.4" fill="#26397a"/>
<text x="430.9" y="663.72" font-size="7.6" letter-spacing="0.4" text-anchor="end">11 %</text>
<text x="440" y="663.72" font-size="7.55">Helicobacteraceae</text>
<rect x="400" y="669.70" width="9.5" height="4.4" fill="#3c1a5a"/>
<text x="430.9" y="674.40" font-size="7.6" letter-spacing="0.4" text-anchor="end">10 %</text>
<text x="440" y="674.40" font-size="7.55">Others</text>
<rect x="400" y="680.38" width="9.5" height="4.4" fill="#a0002c"/>
<text x="430.9" y="685.08" font-size="7.6" letter-spacing="0.4" text-anchor="end">5 %</text>
<text x="440" y="685.08" font-size="7.55">Rikenellaceae</text>
<rect x="400" y="691.06" width="9.5" height="4.4" fill="#da9628"/>
<text x="430.9" y="695.76" font-size="7.6" letter-spacing="0.4" text-anchor="end">3 %</text>
<text x="440" y="695.76" font-size="7.55">Prevotellaceae</text>
<rect x="400" y="701.74" width="9.5" height="4.4" fill="#cacacf"/>
<text x="430.9" y="706.44" font-size="7.6" letter-spacing="0.4" text-anchor="end">1 %</text>
<text x="440" y="706.44" font-size="7.55">Verrucomicrobiaceae</text>
</svg></body></html>
